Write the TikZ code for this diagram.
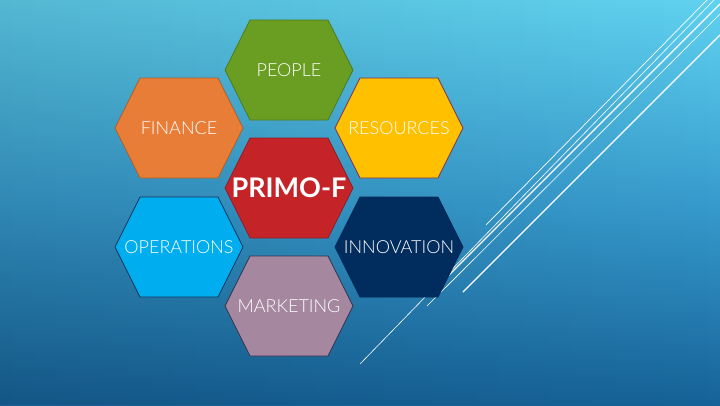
\documentclass[tikz,border=0pt]{standalone}
\usepackage{fontspec}
\setmainfont{Lato}[UprightFont={* Light},BoldFont={* Bold}]
\usetikzlibrary{shapes.geometric,fadings}
\definecolor{bgtop}{RGB}{96,210,240}
\definecolor{bgmid}{RGB}{55,155,205}
\definecolor{bgbot}{RGB}{22,98,152}
\definecolor{cpeople}{RGB}{106,158,34}
\definecolor{bpeople}{RGB}{80,120,30}
\definecolor{cfin}{RGB}{232,125,55}
\definecolor{bfin}{RGB}{170,95,45}
\definecolor{cres}{RGB}{255,192,0}
\definecolor{bres}{RGB}{120,50,90}
\definecolor{cprimo}{RGB}{196,35,39}
\definecolor{bprimo}{RGB}{140,30,40}
\definecolor{cops}{RGB}{0,174,239}
\definecolor{bops}{RGB}{20,50,90}
\definecolor{cinno}{RGB}{0,45,93}
\definecolor{binno}{RGB}{0,40,85}
\definecolor{cmkt}{RGB}{166,135,160}
\definecolor{bmkt}{RGB}{50,50,80}
\tikzset{
  hexlabel/.style={text=white,font=\fontsize{18}{18}\selectfont,inner sep=0pt},
  primolabel/.style={text=white,font=\fontsize{27}{27}\selectfont\bfseries,inner sep=0pt},
  deco/.style={white,line cap=round},
}
\newcommand\drawhex[3]{%
  \fill[#2,draw=#3,line width=0.8pt] (#1) ++(-64,0) -- ++(25,-50) -- ++(78,0) -- ++(25,50) -- ++(-25,50) -- ++(-78,0) -- cycle;}
\begin{document}
\begin{tikzpicture}[x=1pt,y=-1pt]
\useasboundingbox (0,0) rectangle (720,405);
\shade[top color=bgtop,bottom color=bgbot,middle color=bgmid] (0,0) rectangle (720,405);
\fill[black,opacity=0.12,path fading=east] (0,0) rectangle (720,405);
% decorative lines
\coordinate (a1) at (486,225); \coordinate (a2) at (707,0);
\coordinate (b1) at (360,364); \coordinate (b2) at (714,0);
\coordinate (c1) at (440,284); \coordinate (c2) at (720,4);
\coordinate (d1) at (427,306); \coordinate (d2) at (720,14);
\coordinate (e1) at (463,292); \coordinate (e2) at (720,35);
\draw[deco,line width=0.7pt] (a1) -- (a2);
\draw[deco,line width=0.6pt] (b1) -- (b2);
\draw[deco,line width=1.1pt] (c1) -- (c2);
\draw[deco,line width=0.6pt] (d1) -- (d2);
\draw[deco,line width=1.3pt] (e1) -- (e2);
% hexagons
\coordinate (pp) at (289,70);
\coordinate (fi) at (179,128);
\coordinate (re) at (399,128);
\coordinate (pr) at (289,188);
\coordinate (op) at (179,247);
\coordinate (in) at (399,247);
\coordinate (mk) at (289,306);
\drawhex{pp}{cpeople}{bpeople}
\drawhex{fi}{cfin}{bfin}
\drawhex{re}{cres}{bres}
\drawhex{pr}{cprimo}{bprimo}
\drawhex{op}{cops}{bops}
\drawhex{in}{cinno}{binno}
\drawhex{mk}{cmkt}{bmkt}
\node[hexlabel] (tpp) at (pp) {PEOPLE};
\node[hexlabel] (tfi) at (fi) {FINANCE};
\node[hexlabel] (tre) at (re) {RESOURCES};
\node[primolabel] (tpr) at (pr) {PRIMO-F};
\node[hexlabel] (top) at (op) {OPERATIONS};
\node[hexlabel] (tin) at (in) {INNOVATION};
\node[hexlabel] (tmk) at (mk) {MARKETING};
\end{tikzpicture}
\end{document}
